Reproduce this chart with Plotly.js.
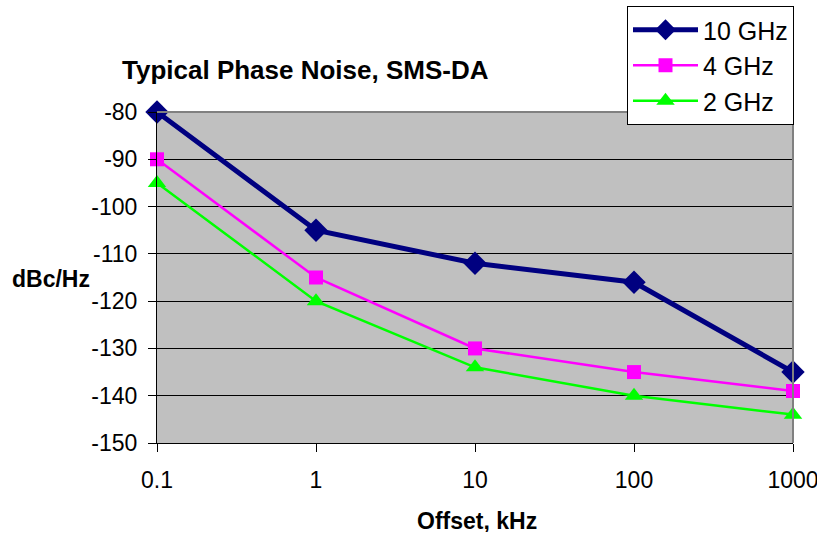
<!DOCTYPE html>
<html>
<head>
<meta charset="utf-8">
<script src="https://cdn.plot.ly/plotly-3.0.1.min.js"></script>
<style>html,body{margin:0;padding:0;background:#fff;}#chart{width:817px;height:533px;}</style>
</head>
<body>
<div id="chart"></div>
<script>
const offsets = [0.1, 1, 10, 100, 1000];
const xTickLabels = ["0.1", "1", "10", "100", "1000"];
const yTickVals = [-150, -140, -130, -120, -110, -100, -90, -80];
const yTickLabels = ["-150", "-140", "-130", "-120", "-110", "-100", "-90", "-80"];
const ghz10 = [-80, -105, -112, -116, -135];
const ghz4 = [-90, -115, -130, -135, -139];
const ghz2 = [-95, -120, -134, -140, -144];
const seriesNames = ["10 GHz", "4 GHz", "2 GHz"];

const FONT = "Liberation Sans, Arial, sans-serif";
const L = 157, R = 793, T = 112, B = 443, W = 817, H = 533;
const pw = R - L, ph = B - T;

const traces = [
  {x: offsets, y: ghz10, name: seriesNames[0], mode: "lines+markers", cliponaxis: false,
   line: {color: "#000080", width: 5}, marker: {symbol: "diamond", size: 18, color: "#000080"}},
  {x: offsets, y: ghz4, name: seriesNames[1], mode: "lines+markers", cliponaxis: false,
   line: {color: "#FF00FF", width: 2.5}, marker: {symbol: "square", size: 14, color: "#FF00FF"}},
  {x: offsets, y: ghz2, name: seriesNames[2], mode: "lines+markers", cliponaxis: false,
   line: {color: "#00FF00", width: 2.5}, marker: {symbol: "triangle-up", size: 16, color: "#00FF00"}}
];

const layout = {
  width: W, height: H,
  margin: {l: L, r: W - R, t: T, b: H - B, autoexpand: false},
  paper_bgcolor: "#ffffff",
  plot_bgcolor: "#C0C0C0",
  font: {family: FONT, color: "#000", size: 22},
  showlegend: true,
  title: {text: "<b>Typical Phase Noise, SMS-DA</b>", font: {family: FONT, size: 26, color: "#000"},
          x: 122/W, xanchor: "left", xref: "container", y: 1 - 70/H, yanchor: "middle", yref: "container"},
  xaxis: {type: "log", range: [-1, 3], tickvals: offsets, ticktext: xTickLabels,
          showgrid: false, zeroline: false, showline: true, linecolor: "#000", linewidth: 1,
          ticks: "outside", ticklen: 8, tickcolor: "#000", ticklabelstandoff: 8, ticklabeloverflow: "allow",
          tickfont: {family: FONT, size: 23, color: "#000"}, fixedrange: true, automargin: false},
  yaxis: {range: [-150, -80], tickvals: yTickVals, ticktext: yTickLabels, showgrid: true, gridcolor: "#000", gridwidth: 1,
          zeroline: false, showline: true, linecolor: "#000", linewidth: 1,
          ticks: "outside", ticklen: 8, tickcolor: "#000", ticklabelstandoff: 6,
          tickfont: {family: FONT, size: 23, color: "#000"}, fixedrange: true, automargin: false},
  legend: {x: (627 - L)/pw, y: (B - 6)/ph, xanchor: "left", yanchor: "top",
           bgcolor: "#ffffff", bordercolor: "#000", borderwidth: 1,
           font: {family: FONT, size: 25, color: "#000"}, itemwidth: 65, tracegroupgap: 0},
  shapes: [
    {type: "line", xref: "paper", yref: "paper", x0: 0, x1: 1, y0: 1, y1: 1, line: {color: "#808080", width: 2}},
    {type: "line", xref: "paper", yref: "paper", x0: 1, x1: 1, y0: 0, y1: 1, line: {color: "#808080", width: 2}}
  ],
  annotations: [
    {text: "<b>dBc/Hz</b>", xref: "paper", yref: "paper", x: (51 - L)/pw, y: (B - 279)/ph,
     xanchor: "center", yanchor: "middle", showarrow: false, font: {family: FONT, size: 23, color: "#000"}},
    {text: "<b>Offset, kHz</b>", xref: "paper", yref: "paper", x: (477 - L)/pw, y: (B - 521)/ph,
     xanchor: "center", yanchor: "middle", height: 22, showarrow: false, font: {family: FONT, size: 23, color: "#000"}}
  ]
};

Plotly.newPlot("chart", traces, layout, {displayModeBar: false, staticPlot: true});
</script>
</body>
</html>
